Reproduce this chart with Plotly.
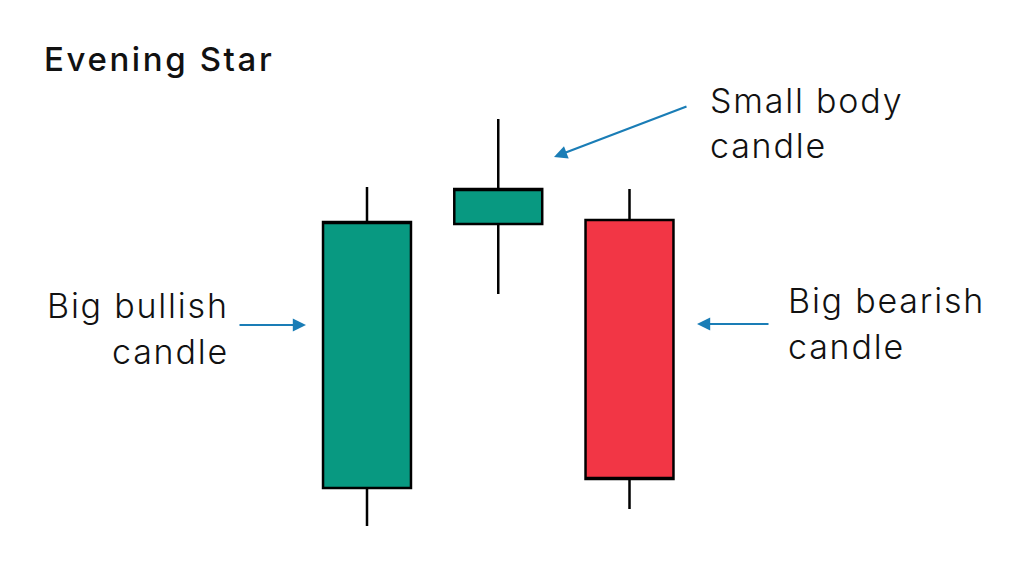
import plotly.graph_objects as go

# ---- data -------------------------------------------------------------
candles = ["Day 1", "Day 2", "Day 3"]
x_pos = [1, 2, 3]
opens = [88, 352, 356]
highs = [389, 457, 387]
lows = [50, 282, 67]
closes = [354, 387, 97]

title_text = "Evening Star"
label_bull = ["Big bullish", "candle"]
label_small = ["Small body", "candle"]
label_bear = ["Big bearish", "candle"]

GREEN = "#089981"
RED = "#F23645"
BLUE = "#1A7DB6"
FONT = "Inter, Roboto, sans-serif"

W, H = 1024, 576
STEP = 131.25      # pixels per candle slot
X0_PX = 367        # pixel of x=1

def px_x(px):
    return 1 + (px - X0_PX) / STEP

def px_y(py):
    return H - py

def spaced(s, ls):
    return f'<span style="letter-spacing:{ls}px">{s}</span>'

fig = go.Figure()
fig.add_trace(go.Candlestick(
    x=x_pos, open=opens, high=highs, low=lows, close=closes,
    text=candles, hoverinfo="text",
    increasing=dict(fillcolor=GREEN, line=dict(color="black", width=2.5)),
    decreasing=dict(fillcolor=RED, line=dict(color="black", width=2.5)),
    whiskerwidth=0,
    showlegend=False,
))

annotations = []
# title
annotations.append(dict(
    x=px_x(42), y=px_y(59), xref="x", yref="y", text=spaced(title_text, 2.6),
    showarrow=False, xanchor="left", yanchor="middle",
    font=dict(family=FONT, size=33, color="#111111", weight=500),
))

def add_label(lines, x_px, ys, anchor):
    for line, y in zip(lines, ys):
        annotations.append(dict(
            x=px_x(x_px), y=px_y(y), xref="x", yref="y",
            text=spaced(line, 1.8), showarrow=False, xanchor=anchor,
            yanchor="middle", align=anchor,
            font=dict(family=FONT, size=34, color="#111111", weight=300),
        ))

add_label(label_bull, 230.5, [305, 351], "right")
add_label(label_small, 708, [100.5, 145.5], "left")
add_label(label_bear, 786, [300, 346], "left")

def add_arrow(tail, head):
    annotations.append(dict(
        x=px_x(head[0]), y=px_y(head[1]), ax=px_x(tail[0]), ay=px_y(tail[1]),
        xref="x", yref="y", axref="x", ayref="y", text="",
        showarrow=True, arrowhead=2, arrowsize=1.2, arrowwidth=2.2,
        arrowcolor=BLUE, standoff=0, startstandoff=0,
    ))

add_arrow((238, 325), (306, 325))
add_arrow((770, 324), (697, 324))
add_arrow((688, 106), (554, 157))

fig.update_layout(
    width=W, height=H,
    margin=dict(l=0, r=0, t=0, b=0),
    paper_bgcolor="white", plot_bgcolor="white",
    boxgap=0.33, boxgroupgap=0,
    annotations=annotations,
    xaxis=dict(range=[px_x(0), px_x(W)], visible=False,
               rangeslider=dict(visible=False), fixedrange=True),
    yaxis=dict(range=[0, H], visible=False, fixedrange=True),
    showlegend=False,
)

fig.write_html(
    "out.html",
    config={"displayModeBar": False},
    post_script="document.body.style.margin='0';document.body.style.overflow='hidden';",
)
